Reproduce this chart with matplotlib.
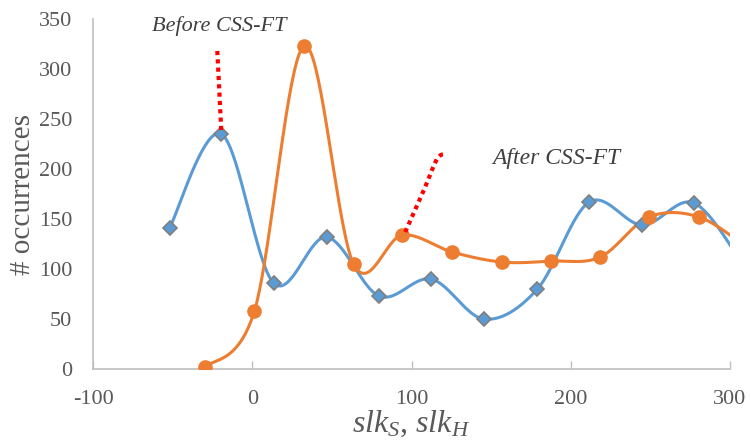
import numpy as np
import matplotlib.pyplot as plt

plt.rcParams['font.family'] = ['Liberation Serif', 'DejaVu Serif']
plt.rcParams['mathtext.fontset'] = 'custom'
plt.rcParams['mathtext.it'] = 'Liberation Serif:italic'
plt.rcParams['mathtext.rm'] = 'Liberation Serif'
plt.rcParams['axes.unicode_minus'] = False

# data
before_x = [-52, -19.5, 13.4, 46.6, 79.7, 112.4, 145.7, 179, 211.6, 245, 277.5, 310]
before_y = [141, 235, 86, 132, 73, 90, 50, 80, 167, 144, 166, 100]
after_x = [-29.5, 1.3, 32.6, 63.6, 94.2, 125.6, 157, 187.8, 218.5, 249, 280.7, 312]
after_y = [2, 58, 323, 105, 134, 117, 107, 108, 112, 152, 152, 120]

arrow1_x = [-22, -19.5]
arrow1_y = [318, 238]
arrow2_x = [96, 108, 116, 121]
arrow2_y = [137, 180, 210, 215]

x_ticks = [-100, 0, 100, 200, 300]
y_ticks = [0, 50, 100, 150, 200, 250, 300, 350]

blue = '#5B9BD5'
orange = '#ED7D31'
grey = '#595959'


def smooth(xs, ys, n=40):
    # Catmull-Rom curve through the points, like Excel's smoothed line
    p = np.column_stack([xs, ys]).astype(float)
    p = np.vstack([p[0], p, p[-1]])
    out = []
    t = np.linspace(0, 1, n)[:, None]
    for i in range(1, len(p) - 2):
        p0, p1, p2, p3 = p[i - 1], p[i], p[i + 1], p[i + 2]
        seg = 0.5 * ((2 * p1) + (-p0 + p2) * t
                     + (2 * p0 - 5 * p1 + 4 * p2 - p3) * t ** 2
                     + (-p0 + 3 * p1 - 3 * p2 + p3) * t ** 3)
        out.append(seg)
    out = np.vstack(out)
    return out[:, 0], out[:, 1]


fig = plt.figure(figsize=(7.51, 4.40), dpi=100)
ax = fig.add_axes([0.124, 0.161, 0.848, 0.796])

sx, sy = smooth(before_x, before_y)
ax.plot(sx, sy, color=blue, lw=2.2, zorder=2)
ax.plot(before_x, before_y, 'D', color=blue, mec='#7f7f7f', mew=1.2, ms=7, zorder=4)

sx, sy = smooth(after_x, after_y)
ax.plot(sx, sy, color=orange, lw=2.2, zorder=3)
ax.plot(after_x, after_y, 'o', color=orange, ms=9.5, zorder=5)

ax.plot(arrow1_x, arrow1_y, color='red', ls=(0, (1, 1)), lw=3, zorder=6)
sx, sy = smooth(arrow2_x, arrow2_y, 20)
ax.plot(sx, sy, color='red', ls=(0, (1, 1)), lw=3, zorder=6)

ax.text(-21, 343, 'Before CSS-FT', style='italic', fontsize=16, color='#404040', ha='center', va='center')
ax.text(191, 211, 'After CSS-FT', style='italic', fontsize=17, color='#404040', ha='center', va='center')

ax.set_xlim(-100, 300)
ax.set_ylim(0, 350)
ax.set_xticks(x_ticks)
ax.set_yticks(y_ticks)
ax.tick_params(axis='x', direction='in', length=6, width=1, color='#bfbfbf', labelsize=16, labelcolor=grey, pad=15)
ax.tick_params(axis='y', length=0, labelsize=16, labelcolor=grey, pad=15)
for s in ['top', 'right']:
    ax.spines[s].set_visible(False)
for s in ['left', 'bottom']:
    ax.spines[s].set_color('#bfbfbf')
    ax.spines[s].set_linewidth(1.2)

ax.set_ylabel('# occurrences', fontsize=21, color=grey, labelpad=2)
ax.set_xlabel(r'$slk_S$, $slk_H$', fontsize=23, color=grey, labelpad=0)

fig.savefig('out.png', dpi=100)
